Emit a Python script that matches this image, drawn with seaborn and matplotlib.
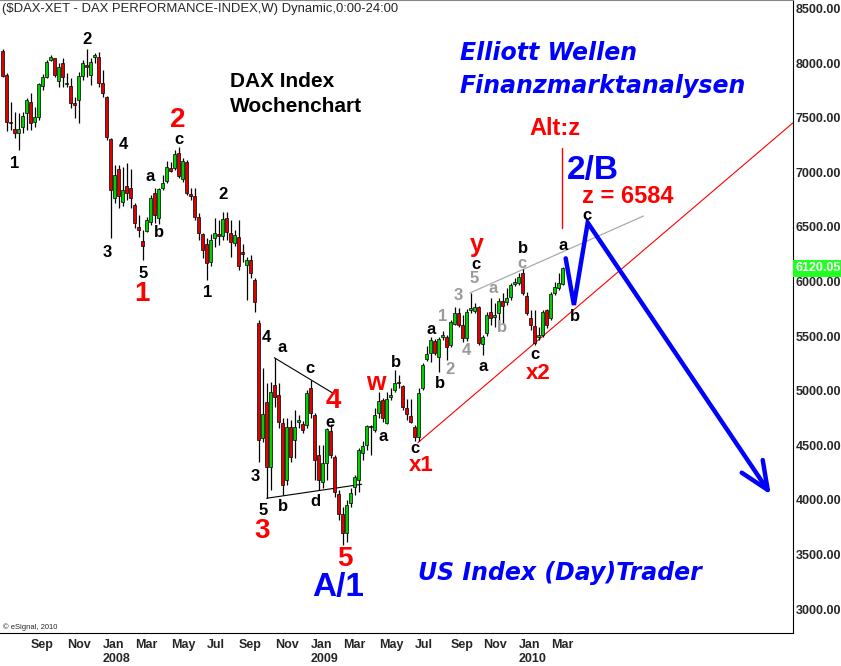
import pandas as pd
import seaborn as sns
import matplotlib.pyplot as plt

# weekly DAX candles, first bar = week of 2007-07-16
start = "2007-07-16"
opens = [8111, 7891, 7463, 7394, 7360, 7412, 7540, 7647, 7463, 7509,
         7790, 7876, 8029, 8044, 7839, 8004, 7809, 7790, 7632, 7662,
         7882, 7985, 7891, 8053, 8053, 7815, 7692, 7302, 6762, 7028,
         6731, 6875, 6854, 6701, 6502, 6374, 6465, 6548, 6808, 6579,
         6854, 6923, 7042, 7037, 7180, 6936, 7097, 6801, 6783, 6594,
         6432, 6344, 6179, 6398, 6435, 6417, 6582, 6444, 6353, 6408,
         6270, 6151, 6197, 6014, 5620, 4567, 4897, 4301, 5052, 4960,
         4704, 4182, 4668, 4549, 4713, 4695, 4686, 5025, 4777, 4411,
         4164, 4338, 4631, 4393, 4054, 3871, 3697, 3972, 4118, 4182,
         4429, 4503, 4677, 4640, 4796, 4915, 4704, 4942, 5006, 5080,
         5043, 4842, 4768, 4668, 4576, 5025, 5290, 5345, 5455, 5309,
         5492, 5492, 5419, 5611, 5712, 5602, 5483, 5739, 5730, 5767,
         5428, 5528, 5721, 5675, 5712, 5821, 5812, 5858, 5977, 5986,
         6078, 5867, 5666, 5593, 5492, 5510, 5739, 5666, 5895, 5940,
         5977]
highs = [8127, 7907, 7647, 7555, 7543, 7555, 7678, 7724, 7601, 7821,
         7900, 8029, 8074, 8047, 7998, 8044, 7912, 7866, 7692, 7921,
         8029, 8127, 8044, 8090, 8102, 7937, 7700, 7311, 7067, 7067,
         7051, 7082, 7028, 6716, 6609, 6472, 6594, 6792, 6854, 6854,
         6975, 7106, 7092, 7204, 7235, 7128, 7113, 6854, 6859, 6625,
         6441, 6398, 6435, 6582, 6563, 6637, 6637, 6563, 6472, 6563,
         6344, 6224, 6243, 6032, 5647, 5208, 5071, 5080, 5300, 5071,
         4750, 4750, 4732, 4823, 4777, 4722, 5006, 5098, 4796, 4503,
         4503, 4658, 4695, 4411, 4091, 3935, 3999, 4109, 4228, 4475,
         4539, 4686, 4686, 4842, 4988, 4933, 4988, 5025, 5190, 5144,
         5052, 4924, 4924, 4686, 5025, 5254, 5409, 5492, 5474, 5492,
         5547, 5510, 5647, 5766, 5757, 5693, 5748, 5895, 5803, 5776,
         5510, 5721, 5849, 5803, 5849, 5895, 5940, 5986, 6032, 6078,
         6115, 5904, 5739, 5739, 5583, 5739, 5748, 5904, 5995, 6078,
         6133]
lows = [7876, 7381, 7388, 7311, 7204, 7357, 7387, 7387, 7418, 7479,
        7754, 7861, 8019, 7876, 7778, 7784, 7778, 7586, 7495, 7454,
        7845, 7873, 7800, 8004, 7784, 7692, 7296, 6396, 6716, 6670,
        6691, 6746, 6670, 6487, 6405, 6197, 6453, 6518, 6533, 6527,
        6838, 6899, 7003, 7021, 6948, 6914, 6792, 6746, 6563, 6380,
        6212, 6014, 6142, 6316, 6334, 6380, 6380, 6224, 6325, 6105,
        6179, 5831, 6032, 5720, 4347, 4530, 4017, 4091, 4851, 4658,
        4045, 4136, 4347, 4384, 4658, 4613, 4658, 4750, 4182, 4091,
        4109, 4182, 4384, 4026, 3816, 3587, 3614, 3935, 4045, 4072,
        4365, 4457, 4411, 4622, 4750, 4713, 4695, 4915, 4988, 5025,
        4823, 4732, 4704, 4539, 4539, 5006, 5272, 5263, 5327, 5171,
        5464, 5281, 5400, 5602, 5583, 5446, 5455, 5712, 5712, 5419,
        5327, 5501, 5602, 5583, 5620, 5620, 5785, 5831, 5959, 5968,
        5876, 5693, 5556, 5419, 5464, 5492, 5574, 5648, 5876, 5922,
        5968]
closes = [7885, 7463, 7449, 7357, 7395, 7516, 7662, 7449, 7509, 7809,
          7876, 8013, 8053, 7891, 7967, 7870, 7821, 7632, 7619, 7882,
          8004, 7967, 8013, 8074, 7821, 7729, 7326, 6838, 6975, 6783,
          6838, 6813, 6762, 6533, 6472, 6325, 6563, 6768, 6609, 6845,
          6905, 7051, 7015, 7165, 6966, 7104, 6813, 6783, 6594, 6441,
          6289, 6169, 6380, 6444, 6417, 6572, 6453, 6362, 6426, 6142,
          6252, 6197, 6078, 5812, 4548, 4787, 4301, 4988, 4942, 4713,
          4136, 4668, 4393, 4668, 4732, 4640, 4979, 4796, 4365, 4182,
          4338, 4649, 4411, 4072, 3871, 3697, 3953, 4063, 4210, 4457,
          4494, 4677, 4672, 4777, 4906, 4750, 4924, 4960, 5071, 5071,
          4851, 4787, 4713, 4576, 4979, 5235, 5336, 5464, 5345, 5474,
          5510, 5400, 5629, 5712, 5602, 5483, 5721, 5757, 5767, 5437,
          5492, 5693, 5666, 5693, 5821, 5776, 5849, 5968, 5995, 6041,
          5895, 5712, 5602, 5437, 5510, 5721, 5602, 5886, 5950, 5986,
          6120.05]

month_ticks = ["2007-09", "2007-11", "2008-01", "2008-03", "2008-05", "2008-07",
               "2008-09", "2008-11", "2009-01", "2009-03", "2009-05", "2009-07",
               "2009-09", "2009-11", "2010-01", "2010-03"]
month_labels = ["Sep", "Nov", "Jan\n2008", "Mar", "May", "Jul", "Sep", "Nov",
                "Jan\n2009", "Mar", "May", "Jul", "Sep", "Nov", "Jan\n2010", "Mar"]
y_ticks = [3000, 3500, 4000, 4500, 5000, 5500, 6000, 6500, 7000, 7500, 8000, 8500]

# wave labels: (text, week number, price)
black_labels = [("2", 21.15, 8218), ("1", 3.08, 7082), ("c", 44.08, 7300),
                ("4", 30.15, 7259), ("a", 36.8, 6966), ("b", 39.1, 6451),
                ("3", 26.15, 6267), ("5", 35.15, 6069), ("2", 55.15, 6801),
                ("1", 51.15, 5901), ("4", 66.0, 5489), ("a", 69.9, 5397),
                ("c", 76.8, 5205), ("e", 81.8, 4712), ("b", 98.3, 5256),
                ("a", 95.15, 4579), ("3", 63.1, 4212), ("5", 65.15, 3901),
                ("b", 70.0, 3944), ("d", 78.1, 3983), ("c", 103.1, 4475),
                ("a", 107.0, 5562), ("b", 109.3, 5068), ("a", 120.15, 5220),
                ("c", 133.1, 5327), ("c", 118.3, 6160), ("b", 130.15, 6304),
                ("a", 140.15, 6334), ("b", 143.0, 5678), ("c", 146.0, 6605)]
grey_labels = [("5", 117.8, 6029), ("3", 113.9, 5876), ("1", 109.9, 5684),
               ("2", 111.8, 5196), ("4", 115.8, 5366), ("a", 122.65, 5938),
               ("b", 124.8, 5583), ("c", 129.8, 6167)]
red_labels = [("2", 43.65, 7480, 20), ("1", 34.75, 5886, 20), ("3", 64.75, 3715, 20),
              ("4", 82.65, 4905, 20), ("5", 85.6, 3456, 20), ("w", 93.25, 5068, 18),
              ("x1", 104.75, 4315, 16), ("x2", 133.9, 5159, 16), ("y", 118.5, 6334, 18)]

# drawn lines: (week numbers, prices)
trend_w, trend_p = [103.8, 197.6], [4524, 7454]
grey_w, grey_p = [116.8, 160.2], [5895, 6600]
tri_top_w, tri_top_p = [67.9, 82.9], [5302, 4970]
tri_bot_w, tri_bot_p = [66.0, 89.75], [4015, 4143]
alt_w, alt_p = [139.9, 139.9], [7220, 6487]
path_w, path_p = [140.75, 142.8, 146.25, 191.25], [6212, 5785, 6539, 4091]
head_w, head_p = [184.75, 191.25, 190.0], [4249, 4091, 4365]

t0 = pd.Timestamp(start)
def wk(w):
    return [t0 + pd.Timedelta(days=7 * v) for v in w]

sns.set_style("white")
plt.rcParams['font.family'] = ['Liberation Sans', 'DejaVu Sans']

df = pd.DataFrame({"open": opens, "high": highs, "low": lows, "close": closes},
                  index=pd.date_range(start, periods=len(opens), freq="7D"))
up = df["close"] >= df["open"]

fig = plt.figure(figsize=(8.41, 6.66), dpi=100)
ax = fig.add_axes([0, 33 / 666, 793 / 841, 633 / 666])

ax.vlines(df.index, df["low"], df["high"], color="black", lw=0.9, zorder=2)
ax.bar(df.index, df["close"] - df["open"], bottom=df["open"], width=4.6,
       color=["#00d000" if u else "#e00000" for u in up],
       edgecolor="black", linewidth=0.5, zorder=3)

ax.plot(wk(trend_w), trend_p, color="red", lw=0.8, zorder=1)
ax.plot(wk(grey_w), grey_p, color="#aaaaaa", lw=0.9, zorder=1)
ax.plot(wk(tri_top_w), tri_top_p, color="black", lw=0.8, zorder=1)
ax.plot(wk(tri_bot_w), tri_bot_p, color="black", lw=0.8, zorder=1)
ax.plot(wk(alt_w), alt_p, color="red", lw=1.0)
ax.plot(wk(path_w), path_p, color="#0000ff", lw=3.2, solid_joinstyle="miter", zorder=4)
ax.plot(wk(head_w), head_p, color="#0000ff", lw=3.2, zorder=4)

for txt, w, p in black_labels:
    ax.text(wk([w])[0], p, txt, color="black", fontsize=12, fontweight="bold",
            ha="center", va="center", zorder=5)
for txt, w, p in grey_labels:
    ax.text(wk([w])[0], p, txt, color="#9a9a9a", fontsize=12, fontweight="bold",
            ha="center", va="center", zorder=5)
for txt, w, p, fs in red_labels:
    ax.text(wk([w])[0], p, txt, color="red", fontsize=fs, fontweight="bold",
            ha="center", va="center", zorder=5)

ax.text(wk([131.8])[0], 7403, "Alt:z", color="red", fontsize=17, fontweight="bold",
        ha="left", va="center")
ax.text(wk([144.75])[0], 6775, "z = 6584", color="red", fontsize=17, fontweight="bold",
        ha="left", va="center")
ax.text(wk([141.0])[0], 7015, "2/B", color="#0000ff", fontsize=24, fontweight="bold",
        ha="left", va="center")
ax.text(wk([83.9])[0], 3200, "A/1", color="#0000ff", fontsize=24, fontweight="bold",
        ha="center", va="center")
ax.text(wk([56.8])[0], 7830, "DAX Index", color="black", fontsize=15,
        fontweight="bold", ha="left", va="center")
ax.text(wk([56.8])[0], 7607, "Wochenchart", color="black", fontsize=15,
        fontweight="bold", ha="left", va="center")
for txt, w, p in [("Elliott Wellen", 114.3, 8090), ("Finanzmarktanalysen", 114.3, 7790),
                  ("US Index (Day)Trader", 103.9, 3333)]:
    ax.text(wk([w])[0], p, txt, color="#0000ff", fontsize=17, fontweight="bold",
            fontstyle="italic", family="DejaVu Sans", ha="left", va="center")

ax.text(0.002, 0.985, "($DAX-XET - DAX PERFORMANCE-INDEX,W) Dynamic,0:00-24:00",
        transform=ax.transAxes, fontsize=9.4, ha="left", va="center")
ax.text(0.004, 0.01, "\u00a9 eSignal, 2010", transform=ax.transAxes,
        fontsize=5.5, ha="left", va="center")

ax.set_xlim(t0 - pd.Timedelta(days=4.7), t0 + pd.Timedelta(days=1383))
ax.set_ylim(2781, 8578)

tick_dates = [df.index[df.index.strftime("%Y-%m") == m][0] for m in month_ticks]
ax.set_xticks(tick_dates)
ax.set_xticklabels(month_labels, fontsize=9, fontweight="bold", ha="left",
                   linespacing=1.25)
ax.yaxis.tick_right()
ax.set_yticks(y_ticks)
ax.set_yticklabels([f"{v:.2f}" for v in y_ticks], fontsize=9, fontweight="bold")
ax.tick_params(axis="both", length=0)
ax.tick_params(axis="y", pad=2)
ax.tick_params(axis="x", pad=4)

ax.text(1.003, closes[-1], f"{closes[-1]:.2f}", transform=ax.get_yaxis_transform(),
        color="white", fontsize=9, fontweight="bold", ha="left", va="center",
        bbox=dict(facecolor="#22ff22", edgecolor="none", pad=1.5), clip_on=False)

ax.spines["left"].set_visible(False)
ax.spines["top"].set_color("#888888")
ax.spines["right"].set_color("black")
ax.spines["bottom"].set_color("black")
ax.set_xlabel("")
ax.set_ylabel("")

fig.savefig("out.png", dpi=100)
